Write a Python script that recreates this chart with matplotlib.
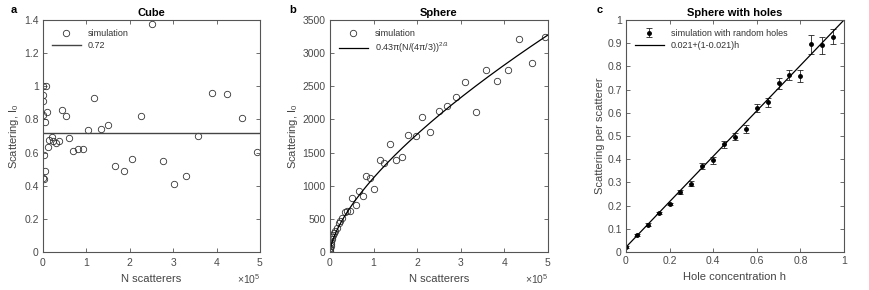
import numpy as np
import matplotlib
matplotlib.use('Agg')
import matplotlib.pyplot as plt
from matplotlib.ticker import ScalarFormatter, FuncFormatter

plt.rcParams['font.family'] = ['Liberation Sans', 'DejaVu Sans']
plt.rcParams['mathtext.fontset'] = 'custom'
plt.rcParams['mathtext.rm'] = 'Liberation Sans'
plt.rcParams['mathtext.it'] = 'Liberation Sans'

AX_COL = '#555555'

# panel a: cube
cube_n = np.array([0.00, 0.08, 0.01, 0.01, 0.10, 0.00, 0.05, 0.44, 0.52, 1.18,
                   2.52, 1.04, 1.33, 1.50, 2.27, 3.90, 4.23, 4.59, 3.58, 0.20,
                   0.14, 0.24, 0.36, 0.30, 0.60, 0.12, 0.02, 0.69, 0.80, 0.93,
                   1.67, 1.86, 2.06, 2.76, 3.02, 3.30, 4.94, 0.04, 0.00, 0.02]) * 1e5
cube_i0 = [1.00, 1.00, 0.946, 0.911, 0.847, 0.827, 0.785, 0.855, 0.823, 0.928,
           1.374, 0.738, 0.745, 0.764, 0.820, 0.958, 0.954, 0.810, 0.698, 0.696,
           0.676, 0.670, 0.670, 0.656, 0.686, 0.632, 0.583, 0.608, 0.623, 0.620,
           0.519, 0.490, 0.559, 0.551, 0.408, 0.457, 0.602, 0.490, 0.445, 0.439]
cube_fit = 0.72

# panel b: sphere
sph_n = np.array([4.92, 4.34, 4.63, 4.08, 3.82, 3.57, 3.34, 3.10, 2.88, 2.68,
                  2.49, 2.12, 2.30, 1.80, 1.97, 1.38, 1.14, 1.25, 1.51, 1.66,
                  0.83, 0.92, 1.02, 0.67, 0.76, 0.51, 0.60, 0.46, 0.34, 0.38,
                  0.28, 0.23, 0.20, 0.15, 0.11, 0.09, 0.07, 0.05, 0.04, 0.03,
                  0.02, 0.015, 0.01, 0.005, 0.003, 0.001]) * 1e5
sph_i0 = [3239, 3213, 2851, 2741, 2580, 2741, 2107, 2569, 2338, 2202,
          2131, 2031, 1810, 1770, 1750, 1630, 1393, 1342, 1388, 1438,
          1150, 1121, 958, 922, 850, 819, 716, 620, 603, 625,
          518, 468, 440, 357, 317, 290, 260, 220, 190, 150,
          120, 90, 60, 40, 20, 5]

# panel c: sphere with holes
holes_h = [0.0, 0.05, 0.1, 0.15, 0.2, 0.25, 0.3, 0.35, 0.4, 0.45,
           0.5, 0.55, 0.6, 0.65, 0.7, 0.75, 0.8, 0.85, 0.9, 0.95]
holes_s = [0.021, 0.072, 0.118, 0.168, 0.207, 0.258, 0.295, 0.370, 0.395, 0.465,
           0.497, 0.529, 0.620, 0.645, 0.727, 0.763, 0.759, 0.895, 0.891, 0.928]
holes_err = [0.003, 0.005, 0.005, 0.006, 0.006, 0.008, 0.012, 0.012, 0.015, 0.015,
             0.015, 0.018, 0.018, 0.02, 0.025, 0.02, 0.025, 0.04, 0.037, 0.033]
hole_c = 0.021

fig = plt.figure(figsize=(8.7, 2.9), dpi=100)
ax_a = fig.add_axes([0.0494, 0.131, 0.2494, 0.8])
ax_b = fig.add_axes([0.3793, 0.131, 0.2506, 0.8])
ax_c = fig.add_axes([0.7195, 0.131, 0.2506, 0.8])

gfmt = FuncFormatter(lambda v, p: '%g' % round(v, 6))


def style(ax):
    for s in ax.spines.values():
        s.set_color(AX_COL)
        s.set_linewidth(0.8)
    ax.tick_params(direction='in', top=True, right=True, length=3, width=0.6,
                   colors=AX_COL, labelsize=7.5, labelcolor='#4a4a4a', pad=3)


def sci_x(ax):
    f = ScalarFormatter(useMathText=True)
    f.set_powerlimits((5, 5))
    ax.xaxis.set_major_formatter(f)
    ax.xaxis.get_offset_text().set_fontsize(7.5)
    ax.xaxis.get_offset_text().set_color('#4a4a4a')


# a
ax_a.plot(cube_n, cube_i0, 'o', mfc='none', mec='#333333', ms=4.6, mew=0.6,
          label='simulation')
ax_a.plot([0, 5e5], [cube_fit, cube_fit], color='#444444', lw=1.0, label='0.72')
ax_a.set_xlim(0, 5e5)
ax_a.set_ylim(0, 1.4)
ax_a.set_yticks(np.arange(0, 1.41, 0.2))
ax_a.yaxis.set_major_formatter(gfmt)
style(ax_a)
sci_x(ax_a)
ax_a.set_title('Cube', fontsize=8, fontweight='bold', pad=3)
ax_a.set_xlabel('N scatterers', fontsize=8, color='#444444')
ax_a.set_ylabel('Scattering, I$_0$', fontsize=8, color='#444444', labelpad=2)

# b
nn = np.linspace(0, 5e5, 400)
ax_b.plot(sph_n, sph_i0, 'o', mfc='none', mec='#333333', ms=4.6, mew=0.6,
          label='simulation')
ax_b.plot(nn, 0.43 * np.pi * (nn / (4 * np.pi / 3)) ** (2 / 3), color='k', lw=0.9,
          label=r'0.43$\pi$(N/(4$\pi$/3))$^{2/3}$')
ax_b.set_xlim(0, 5e5)
ax_b.set_ylim(0, 3500)
ax_b.set_yticks(np.arange(0, 3501, 500))
style(ax_b)
sci_x(ax_b)
ax_b.set_title('Sphere', fontsize=8, fontweight='bold', pad=3)
ax_b.set_xlabel('N scatterers', fontsize=8, color='#444444')
ax_b.set_ylabel('Scattering, I$_0$', fontsize=8, color='#444444', labelpad=2)

# c
hh = np.array([0, 1])
eb = ax_c.errorbar(holes_h, holes_s, yerr=holes_err, fmt='o', color='k', ms=2.5,
                   elinewidth=0.6, capsize=2.5, capthick=0.6, ecolor='#222222')
ln, = ax_c.plot(hh, hole_c + (1 - hole_c) * hh, color='k', lw=0.9)
ax_c.set_xlim(0, 1)
ax_c.set_ylim(0, 1)
ax_c.set_xticks(np.arange(0, 1.01, 0.2))
ax_c.set_yticks(np.arange(0, 1.01, 0.1))
ax_c.xaxis.set_major_formatter(gfmt)
ax_c.yaxis.set_major_formatter(gfmt)
style(ax_c)
ax_c.set_title('Sphere with holes', fontsize=8, fontweight='bold', pad=3)
ax_c.set_xlabel('Hole concentration h', fontsize=8, color='#444444')
ax_c.set_ylabel('Scattering per scatterer', fontsize=8, color='#444444', labelpad=2)

leg_kw = dict(loc='upper left', frameon=False, fontsize=6.5,
              handlelength=3.2, borderaxespad=0.6, labelspacing=0.3)
legs = [ax_a.legend(**leg_kw), ax_b.legend(**leg_kw),
        ax_c.legend([eb, ln], ['simulation with random holes', '0.021+(1-0.021)h'],
                    **leg_kw)]
for leg in legs:
    for t in leg.get_texts():
        t.set_color('#333333')

fig.text(0.012, 0.965, 'a', fontsize=8, fontweight='bold', va='center')
fig.text(0.333, 0.965, 'b', fontsize=8, fontweight='bold', va='center')
fig.text(0.686, 0.965, 'c', fontsize=8, fontweight='bold', va='center')

fig.savefig('out.png', dpi=100)
